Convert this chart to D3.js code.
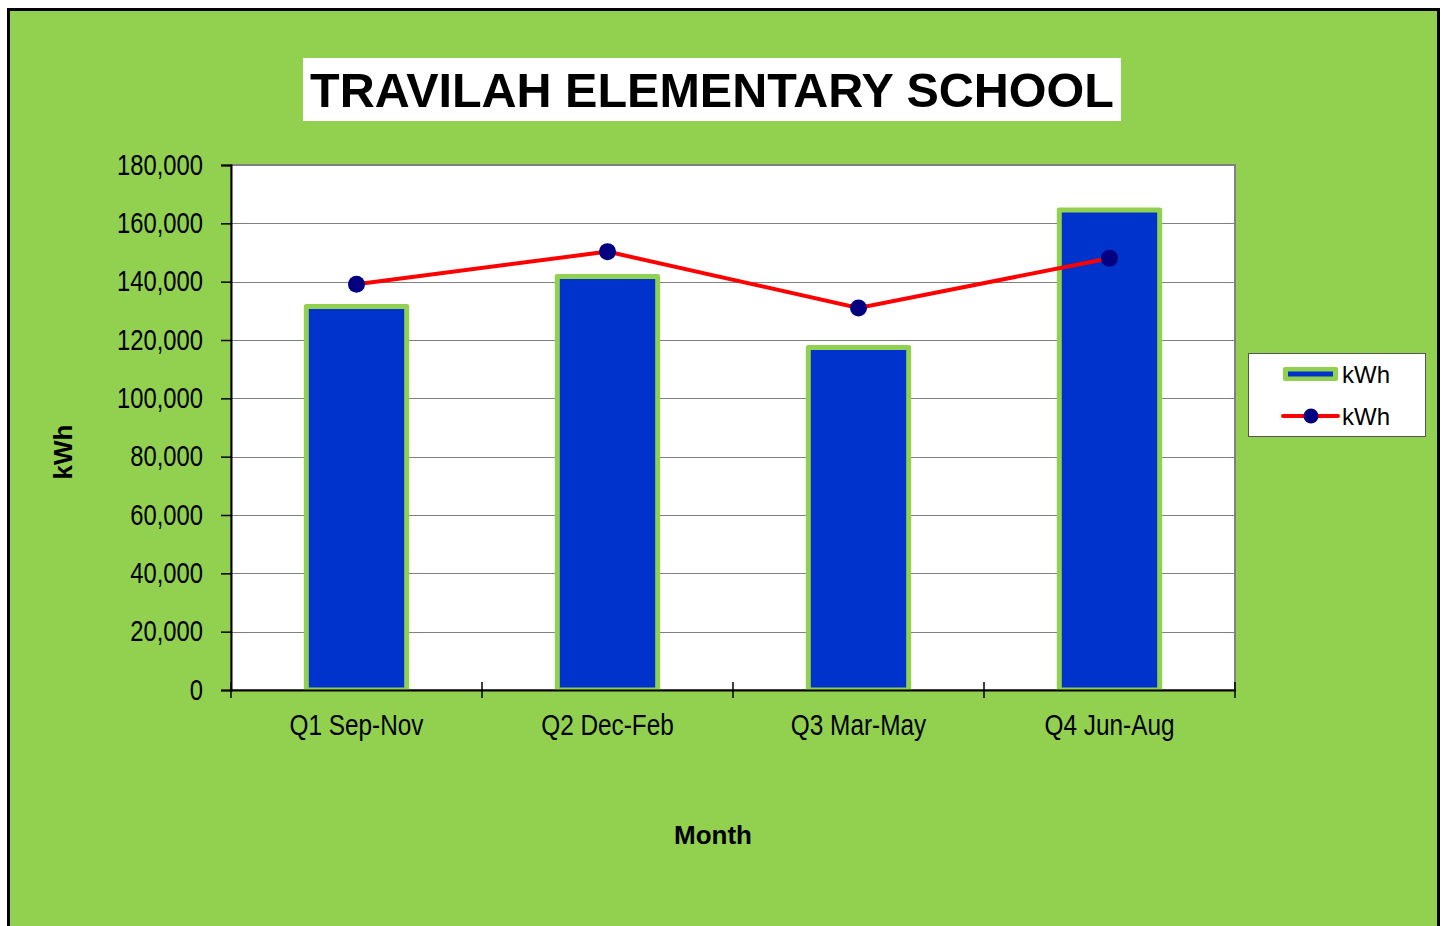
<!DOCTYPE html>
<html>
<head>
<meta charset="utf-8">
<script src="https://cdn.jsdelivr.net/npm/d3@7"></script>
<style>
  html, body { margin: 0; padding: 0; background: #ffffff; }
  svg { display: block; }
  .tick-label { font-family: "Liberation Sans", Arial, sans-serif; }
</style>
</head>
<body>
<div id="chart"></div>
<script>
// ----------------------------------------------------------
// Data
// ----------------------------------------------------------
const categories = ["Q1 Sep-Nov", "Q2 Dec-Feb", "Q3 Mar-May", "Q4 Jun-Aug"];
const barValues  = [131500, 141800, 117400, 164600];
const lineValues = [139100, 150300, 131000, 148000];
const yTicks     = [0, 20000, 40000, 60000, 80000, 100000, 120000, 140000, 160000, 180000];
const seriesNames = ["kWh", "kWh"];
const titleText  = "TRAVILAH ELEMENTARY SCHOOL";
const xTitle     = "Month";
const yTitle     = "kWh";

const width = 1444, height = 926;
const plot = { left: 231, top: 165, right: 1235, bottom: 690 };

const GREEN = "#92D050";
const BLUE  = "#0033CC";
const NAVY  = "#000080";
const RED   = "#FF0000";
const GRID  = "#808080";

// no narrow font installed: squeeze regular sans horizontally
const NARROW = 0.82;

const svg = d3.select("#chart")
  .append("svg")
  .attr("width", width)
  .attr("height", height);

// ----------------------------------------------------------
// Frame + background
// ----------------------------------------------------------
svg.append("rect")
  .attr("x", 8.5).attr("y", 9.5)
  .attr("width", 1430).attr("height", 1000)
  .attr("fill", GREEN)
  .attr("stroke", "#000")
  .attr("stroke-width", 3);

// plot area
svg.append("rect")
  .attr("x", plot.left).attr("y", plot.top)
  .attr("width", plot.right - plot.left)
  .attr("height", plot.bottom - plot.top)
  .attr("fill", "#fff")
  .attr("stroke", GRID)
  .attr("stroke-width", 2);

// ----------------------------------------------------------
// Scales
// ----------------------------------------------------------
const x = d3.scaleBand()
  .domain(categories)
  .range([plot.left, plot.right])
  .paddingInner(0)
  .paddingOuter(0);

const y = d3.scaleLinear()
  .domain([0, 180000])
  .range([plot.bottom, plot.top]);

const barW = x.bandwidth() * 0.4;
const cx = d => x(d) + x.bandwidth() / 2;

// ----------------------------------------------------------
// Grid
// ----------------------------------------------------------
svg.append("g")
  .selectAll("line")
  .data(yTicks.filter(t => t > 0))
  .enter()
  .append("line")
  .attr("x1", plot.left).attr("x2", plot.right)
  .attr("y1", d => Math.round(y(d)) + 0.5)
  .attr("y2", d => Math.round(y(d)) + 0.5)
  .attr("stroke", GRID)
  .attr("stroke-width", 1);

// ----------------------------------------------------------
// Bars
// ----------------------------------------------------------
svg.append("g")
  .selectAll("rect")
  .data(categories)
  .enter()
  .append("rect")
  .attr("x", d => cx(d) - barW / 2)
  .attr("y", (d, i) => y(barValues[i]))
  .attr("width", barW)
  .attr("height", (d, i) => y(0) - y(barValues[i]))
  .attr("fill", BLUE)
  .attr("stroke", GREEN)
  .attr("stroke-width", 5)
  .attr("stroke-linejoin", "round");

// ----------------------------------------------------------
// Axes
// ----------------------------------------------------------
const yAxis = svg.append("g")
  .attr("transform", `translate(${plot.left},0)`)
  .call(d3.axisLeft(y).tickValues(yTicks).tickSize(10).tickPadding(18)
    .tickFormat(d3.format(",")));
yAxis.select(".domain").attr("stroke", "#000").attr("stroke-width", 2);
yAxis.selectAll(".tick line").attr("stroke", "#000").attr("stroke-width", 1.5);
yAxis.selectAll(".tick text")
  .attr("class", "tick-label")
  .attr("font-size", 29)
  .attr("fill", "#000")
  .attr("x", -28 / NARROW)
  .attr("transform", `scale(${NARROW},1)`);

const xAxis = svg.append("g")
  .attr("transform", `translate(0,${plot.bottom})`)
  .call(d3.axisBottom(x).tickSize(0).tickPadding(24));
xAxis.select(".domain").attr("stroke", "#000").attr("stroke-width", 2);
xAxis.selectAll(".tick text")
  .attr("class", "tick-label")
  .attr("font-size", 29)
  .attr("fill", "#000")
  .attr("transform", "scale(0.84,1)");

// category boundary ticks (crossing the axis)
const bounds = categories.map(d => x(d)).concat([plot.right]);
svg.append("g")
  .selectAll("line")
  .data(bounds)
  .enter()
  .append("line")
  .attr("x1", d => d).attr("x2", d => d)
  .attr("y1", plot.bottom - 8).attr("y2", plot.bottom + 8)
  .attr("stroke", "#000")
  .attr("stroke-width", 1.5);

// ----------------------------------------------------------
// Line + markers
// ----------------------------------------------------------
const line = d3.line()
  .x((d, i) => cx(categories[i]))
  .y(d => y(d));

svg.append("path")
  .datum(lineValues)
  .attr("fill", "none")
  .attr("stroke", RED)
  .attr("stroke-width", 4)
  .attr("d", line);

svg.append("g")
  .selectAll("circle")
  .data(lineValues)
  .enter()
  .append("circle")
  .attr("cx", (d, i) => cx(categories[i]))
  .attr("cy", d => y(d))
  .attr("r", 8.5)
  .attr("fill", NAVY);

// ----------------------------------------------------------
// Title
// ----------------------------------------------------------
svg.append("rect")
  .attr("x", 303).attr("y", 58)
  .attr("width", 818).attr("height", 63)
  .attr("fill", "#fff");

svg.append("text")
  .attr("x", 712).attr("y", 90)
  .attr("text-anchor", "middle")
  .attr("dominant-baseline", "central")
  .attr("font-family", "Liberation Sans, Arial, sans-serif")
  .attr("font-weight", "bold")
  .attr("font-size", 48.5)
  .attr("fill", "#000")
  .text(titleText);

// ----------------------------------------------------------
// Axis titles
// ----------------------------------------------------------
svg.append("text")
  .attr("x", 713).attr("y", 835)
  .attr("text-anchor", "middle")
  .attr("dominant-baseline", "central")
  .attr("font-family", "Liberation Sans, Arial, sans-serif")
  .attr("font-weight", "bold")
  .attr("font-size", 26)
  .text(xTitle);

svg.append("text")
  .attr("transform", "translate(63,452) rotate(-90)")
  .attr("text-anchor", "middle")
  .attr("dominant-baseline", "central")
  .attr("font-family", "Liberation Sans, Arial, sans-serif")
  .attr("font-weight", "bold")
  .attr("font-size", 26)
  .text(yTitle);

// ----------------------------------------------------------
// Legend
// ----------------------------------------------------------
const lg = svg.append("g");
lg.append("rect")
  .attr("x", 1248.5).attr("y", 353.5)
  .attr("width", 177).attr("height", 83)
  .attr("fill", "#fff")
  .attr("stroke", "#555")
  .attr("stroke-width", 1);

// bar swatch
lg.append("rect")
  .attr("x", 1283).attr("y", 367)
  .attr("width", 55).attr("height", 14)
  .attr("rx", 2)
  .attr("fill", GREEN);
lg.append("rect")
  .attr("x", 1288).attr("y", 371.5)
  .attr("width", 45).attr("height", 5)
  .attr("fill", BLUE);

// line swatch
lg.append("line")
  .attr("x1", 1283).attr("x2", 1338)
  .attr("y1", 416).attr("y2", 416)
  .attr("stroke", RED)
  .attr("stroke-width", 4)
  .attr("stroke-linecap", "round");
lg.append("circle")
  .attr("cx", 1311).attr("cy", 416)
  .attr("r", 7.5)
  .attr("fill", NAVY);

lg.selectAll("text.leg")
  .data(seriesNames)
  .enter()
  .append("text")
  .attr("class", "leg")
  .attr("x", 1342)
  .attr("y", (d, i) => 374 + i * 42)
  .attr("dominant-baseline", "central")
  .attr("font-family", "Liberation Sans, Arial, sans-serif")
  .attr("font-size", 24)
  .text(d => d);
</script>
</body>
</html>
